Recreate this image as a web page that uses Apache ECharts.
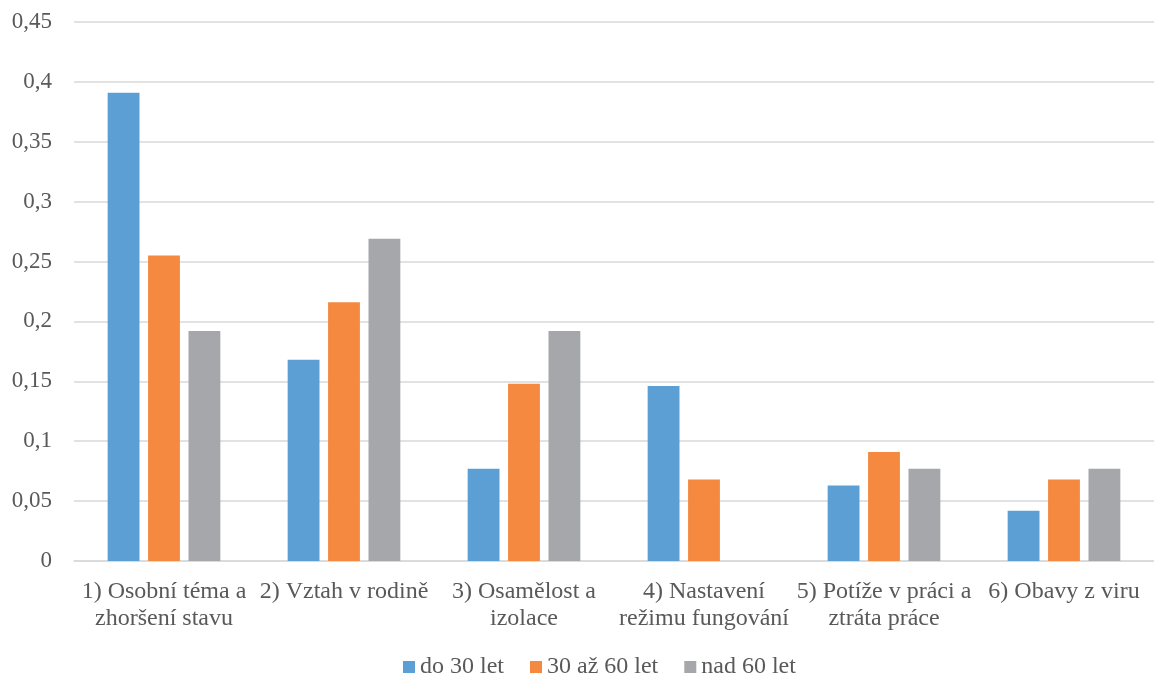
<!DOCTYPE html>
<html><head><meta charset="utf-8">
<script src="https://cdn.jsdelivr.net/npm/echarts@6/dist/echarts.min.js"></script>
<style>html,body{margin:0;padding:0;background:#fff}#c{width:1154px;height:677px}</style>
</head><body><div id="c"></div>
<script>
const categories = ["1) Osobní téma a\nzhoršení stavu","2) Vztah v rodině","3) Osamělost a\nizolace","4) Nastavení\nrežimu fungování","5) Potíže v práci a\nztráta práce","6) Obavy z viru"];
const seriesNames = ["do 30 let","30 až 60 let","nad 60 let"];
const under30 = [0.391, 0.168, 0.077, 0.146, 0.063, 0.042];
const from30to60 = [0.255, 0.216, 0.148, 0.068, 0.091, 0.068];
const over60 = [0.192, 0.269, 0.192, 0, 0.077, 0.077];
const yTicks = [0,0.05,0.1,0.15,0.2,0.25,0.3,0.35,0.4,0.45];
const colors = ["#5B9FD5","#F4893F","#A5A7AA"];
const font = "'Liberation Serif', 'Times New Roman', serif";
const chart = echarts.init(document.getElementById('c'));
chart.setOption({
  animation:false,
  color: colors,
  textStyle:{fontFamily:font},
  grid:{left:74,width:1092,top:22,bottom:116,containLabel:false},
  legend:{top:655,left:403,padding:0,itemWidth:12,itemHeight:12,itemGap:26,icon:'rect',
    textStyle:{fontFamily:font,fontSize:24,color:'#595959',padding:[0,0,0,0]}},
  xAxis:{type:'category',data:categories,
    axisLine:{lineStyle:{color:'#D9D9D9',width:1.5}},axisTick:{show:false},
    axisLabel:{fontFamily:font,fontSize:24,color:'#595959',lineHeight:27,margin:17,interval:0}},
  yAxis:{type:'value',min:0,max:0.45,interval:0.05,
    axisLine:{show:false},axisTick:{show:false},
    splitLine:{lineStyle:{color:'#D9D9D9',width:1.5}},
    axisLabel:{fontFamily:font,fontSize:23,color:'#595959',margin:22,
      formatter:v=>{const t=yTicks.find(x=>Math.abs(x-v)<1e-9);return String(+(t??v).toFixed(2)).replace('.',',');}}},
  series:[
    {name:seriesNames[0],type:'bar',data:under30,barGap:'27%',barCategoryGap:'37.4%'},
    {name:seriesNames[1],type:'bar',data:from30to60,barGap:'27%',barCategoryGap:'37.4%'},
    {name:seriesNames[2],type:'bar',data:over60,barGap:'27%',barCategoryGap:'37.4%'}
  ]
});
</script></body></html>
